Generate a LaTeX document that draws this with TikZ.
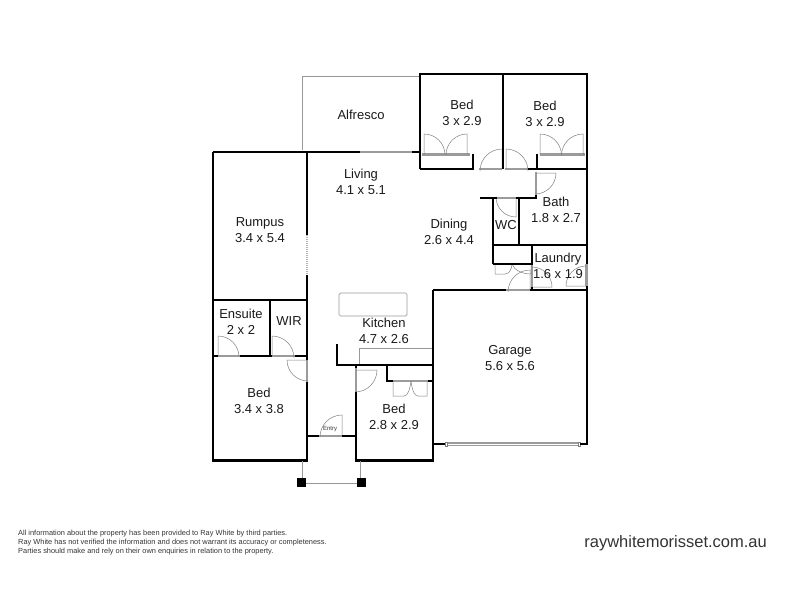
\documentclass[tikz,border=0pt]{standalone}
\usepackage{fontspec}
\setmainfont{Liberation Sans}
\definecolor{stripgray}{RGB}{155,155,155}
\tikzset{
  wall/.style={draw=black,line width=2.6pt,line cap=butt,line join=miter},
  doorstrip/.style={fill=stripgray,draw=none},
  leaf/.style={draw=black!50,line width=0.5pt},
  thin/.style={draw=black!40,line width=0.7pt},
  lbl/.style={font=\fontsize{13}{16}\selectfont,align=center,text=black!90,inner sep=0pt},
  post/.style={fill=black,draw=none}
}
\begin{document}
\begin{tikzpicture}[x=1pt,y=-1pt]
\useasboundingbox (0,0) rectangle (800,600);
% alfresco
\draw[thin] (302,150) -- (302,76) -- (420,76);
% thin kitchen counter, island
\draw[thin] (359,365) -- (359,348) -- (433,348);
\draw[thin,rounded corners=1.5pt] (339,293) rectangle (407,316);
\draw[black!30,line width=2.2pt,dash pattern=on 1pt off 1pt] (307,235) -- (307,275);
% door strips
\fill[doorstrip] (422,153.2) rectangle (470,155.8);
\fill[doorstrip] (540,153.2) rectangle (585,155.8);
\fill[doorstrip] (479,167.7) rectangle (502,170.3);
\fill[doorstrip] (505,167.7) rectangle (528,170.3);
\fill[doorstrip] (534.7,172) rectangle (537.3,195);
\fill[doorstrip] (497,196.7) rectangle (516,199.3);
\fill[doorstrip] (530.7,265) rectangle (533.3,287);
\fill[doorstrip] (506,288.7) rectangle (530,291.3);
\fill[doorstrip] (218,354.7) rectangle (240,357.3);
\fill[doorstrip] (272,354.7) rectangle (295,357.3);
\fill[doorstrip] (305.7,360) rectangle (308.3,382);
\fill[doorstrip] (354.7,368) rectangle (357.3,392);
\fill[doorstrip] (319,434.7) rectangle (342,437.3);
\fill[doorstrip] (393,379.7) rectangle (428,382.3);
\fill[doorstrip] (585.2,264) rectangle (587.8,286);
% window alfresco
\fill[doorstrip] (360,150.7) rectangle (412,153.3);
% garage door
\fill[doorstrip] (445,442.4) rectangle (580,445.6);
\fill[white] (446,443.5) rectangle (579,444.5);
\draw[black!50,fill=white,line width=0.5pt] (445,442) rectangle (447,446) (578,442) rectangle (580,446);
% door swings
\draw[leaf] (424,155) -- (424,134) arc[start angle=-90,end angle=0,radius=21];
\draw[leaf] (467,155) -- (467,134) arc[start angle=-90,end angle=-180,radius=21];
\draw[leaf] (540,155) -- (540,134) arc[start angle=-90,end angle=0,radius=21.5];
\draw[leaf] (583,155) -- (583,134) arc[start angle=-90,end angle=-180,radius=21.5];
\draw[leaf] (502,169) -- (502,149) arc[start angle=-90,end angle=-180,radius=22];
\draw[leaf] (506,169) -- (506,149) arc[start angle=-90,end angle=0,radius=22];
\draw[leaf] (536,173) -- (556,173) arc[start angle=0,end angle=90,radius=21];
\draw[leaf] (516,198) -- (516,217) arc[start angle=90,end angle=180,radius=20];
\draw[leaf] (495,264) -- (495,274) -- (505,274) .. controls (509,274) and (512,269) .. (512,264);
\draw[leaf] (531,264) -- (531,274) .. controls (522,274) and (514,270) .. (512,264);
\draw[leaf] (530,290) -- (530,270) arc[start angle=-90,end angle=-180,radius=22];
\draw[leaf] (533,287) -- (552,287) arc[start angle=0,end angle=-90,radius=20];
\draw[leaf] (586,286) -- (566,286) arc[start angle=180,end angle=270,radius=20];
\draw[leaf] (218,356) -- (218,336) arc[start angle=-90,end angle=0,radius=21];
\draw[leaf] (272,356) -- (272,336) arc[start angle=-90,end angle=0,radius=22];
\draw[leaf] (307,360) -- (287,360) arc[start angle=180,end angle=90,radius=21];
\draw[leaf] (356,370) -- (377,370) arc[start angle=0,end angle=90,radius=22];
\draw[leaf] (342,436) -- (342,415) arc[start angle=-90,end angle=-180,radius=22];
\draw[leaf] (393,381) -- (393,396) -- (404,396) .. controls (408,396) and (410,389) .. (411,381);
\draw[leaf] (427,381) -- (427,396) -- (418,396) .. controls (414,396) and (412,389) .. (411,381);
% walls
\draw[wall] (213,152) -- (360,152);
\draw[wall] (412,152) -- (420,152);
\draw[wall] (420,169) -- (420,74) -- (587,74) -- (587,264);
\draw[wall] (587,286) -- (587,444) -- (580,444);
\draw[wall] (503,74) -- (503,169);
\draw[wall] (420,169) -- (473,169) -- (473,154);
\draw[wall] (528,169) -- (537,169);
\draw[wall] (537,154) -- (537,169) -- (587,169);
\draw[wall] (307,152) -- (307,235);
\draw[wall] (213,152) -- (213,460.5) -- (307,460.5) -- (307,382);
\draw[wall] (307,275) -- (307,360);
\draw[wall] (213,300) -- (307,300);
\draw[wall] (270,300) -- (270,356);
\draw[wall] (213,356) -- (218,356);
\draw[wall] (240,356) -- (272,356);
\draw[wall] (295,356) -- (307,356);
\draw[wall] (480,198) -- (497,198);
\draw[wall] (516,198) -- (536,198) -- (536,195);
\draw[wall] (493,198) -- (493,264);
\draw[wall] (519,198) -- (519,245);
\draw[wall] (493,245) -- (587,245);
\draw[wall] (493,264) -- (532,264);
\draw[wall] (532,245) -- (532,265);
\draw[wall] (532,287) -- (532,290);
\draw[wall] (433,290) -- (506,290);
\draw[wall] (530,290) -- (587,290);
\draw[wall] (433,290) -- (433,460.5) -- (356,460.5) -- (356,392);
\draw[wall] (337,344) -- (337,365) -- (433,365);
\draw[wall] (356,365) -- (356,368);
\draw[wall] (387,365) -- (387,381) -- (393,381);
\draw[wall] (428,381) -- (433,381);
\draw[wall] (307,436) -- (319,436);
\draw[wall] (342,436) -- (356,436);
\draw[wall] (433,444) -- (445,444);
% porch
\draw[thin] (302,461) -- (302,478);
\draw[thin] (360,461) -- (360,478);
\draw[thin] (306,483) -- (357,483);
\fill[post] (297,478) rectangle (306,487);
\fill[post] (357,478) rectangle (366,487);
% labels
\node[lbl] (alf) at (361,114.5) {Alfresco};
\node[lbl] (b1) at (462,113) {Bed\\3 x 2.9};
\node[lbl] (b2) at (545,113.5) {Bed\\3 x 2.9};
\node[lbl] (liv) at (361,182) {Living\\4.1 x 5.1};
\node[lbl] (din) at (449,232) {Dining\\2.6 x 4.4};
\node[lbl] (bath) at (556,210) {Bath\\1.8 x 2.7};
\node[lbl] (wc) at (506,225) {WC};
\node[lbl] (lau) at (558,266) {Laundry\\1.6 x 1.9};
\node[lbl] (rum) at (260,230) {Rumpus\\3.4 x 5.4};
\node[lbl] (ens) at (241,322) {Ensuite\\2 x 2};
\node[lbl] (wir) at (289,321) {WIR};
\node[lbl] (kit) at (384,331) {Kitchen\\4.7 x 2.6};
\node[lbl] (bed3) at (259,401) {Bed\\3.4 x 3.8};
\node[lbl] (bed4) at (394,417) {Bed\\2.8 x 2.9};
\node[lbl] (gar) at (510,358) {Garage\\5.6 x 5.6};
\node[font=\fontsize{6}{7}\selectfont,text=black!80,inner sep=0pt] (ent) at (330,429) {Entry};
\node[font=\fontsize{7.4}{9}\selectfont,align=left,anchor=north west,text=black!80,inner sep=0pt] (disc) at (18,530) {All information about the property has been provided to Ray White by third parties.\\Ray White has not verified the information and does not warrant its accuracy or completeness.\\Parties should make and rely on their own enquiries in relation to the property.};
\node[font=\fontsize{16.5}{20}\selectfont,anchor=east,text=black!80,inner sep=0pt] (url) at (767,543) {raywhitemorisset.com.au};
\end{tikzpicture}
\end{document}
